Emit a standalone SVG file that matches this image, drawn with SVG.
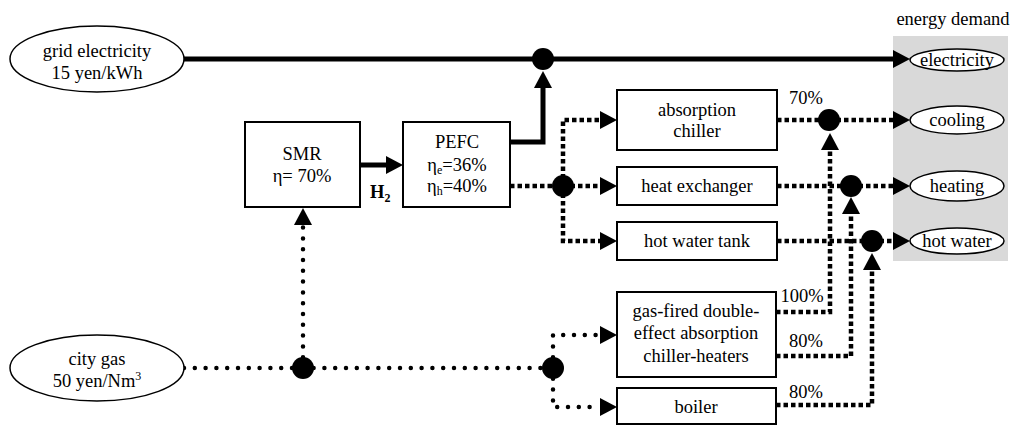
<svg xmlns="http://www.w3.org/2000/svg" width="1020" height="426" viewBox="0 0 1020 426" font-family="Liberation Serif">
<style>
.t{font-size:18.5px;fill:#000;text-anchor:middle}
.b{font-weight:bold}
.box{fill:#fff;stroke:#000;stroke-width:2}
.ell{fill:#fff;stroke:#000;stroke-width:1.5}
.thick{fill:none;stroke:#000;stroke-width:5}
.dash{fill:none;stroke:#000;stroke-width:4.5;stroke-dasharray:4.5 3}
.dot{fill:none;stroke:#000;stroke-width:4.5;stroke-linecap:round;stroke-dasharray:0 10.8}
.j{fill:#000}
</style>
<defs>
<marker id="ah" markerUnits="userSpaceOnUse" markerWidth="18" markerHeight="18" refX="0" refY="9" orient="auto" overflow="visible">
<path d="M0,0 L17,9 L0,18 z" fill="#000"/>
</marker>
</defs>
<rect x="893" y="36" width="115" height="225" fill="#d9d9d9"/>
<text class="t" x="953" y="25" font-family="Liberation Serif">energy demand</text>

<g id="connectors" font-family="Liberation Serif">
<path class="thick" d="M184,59 H893" marker-end="url(#ah)"/>
<path class="thick" d="M510,142 H543 V88" marker-end="url(#ah)"/>
<path class="thick" d="M360,165 H386" marker-end="url(#ah)"/>
<path class="dash" d="M510,186 H563"/>
<path class="dash" d="M563,186 V120 H600" marker-end="url(#ah)"/>
<path class="dash" d="M563,186 H600" marker-end="url(#ah)"/>
<path class="dash" d="M563,186 V241 H600" marker-end="url(#ah)"/>
<path class="dash" d="M777,120 H829"/>
<path class="dash" d="M829,120 H893" marker-end="url(#ah)"/>
<path class="dash" d="M777,186 H851"/>
<path class="dash" d="M851,186 H893" marker-end="url(#ah)"/>
<path class="dash" d="M777,241 H872"/>
<path class="dash" d="M872,241 H893" marker-end="url(#ah)"/>
<path class="dash" d="M776,312 H830 V150" marker-end="url(#ah)"/>
<path class="dash" d="M776,356 H851 V214" marker-end="url(#ah)"/>
<path class="dash" d="M776,405 H872 V270" marker-end="url(#ah)"/>
<path class="dot" d="M184,368 H553"/>
<path class="dot" d="M303,368 V225" marker-end="url(#ah)"/>
<path class="dot" d="M553,368 V335 H600" marker-end="url(#ah)"/>
<path class="dot" d="M553,368 V407 H600" marker-end="url(#ah)"/>
<circle class="j" cx="543" cy="59" r="11"/>
<circle class="j" cx="563" cy="186" r="11"/>
<circle class="j" cx="829" cy="120" r="11"/>
<circle class="j" cx="851" cy="186" r="11"/>
<circle class="j" cx="872" cy="241" r="11"/>
<circle class="j" cx="303" cy="368" r="11"/>
<circle class="j" cx="553" cy="368" r="11"/>
<text class="t b" x="370" y="198" text-anchor="start" style="text-anchor:start">H<tspan font-size="12" dy="4">2</tspan></text>
<text class="t" x="806" y="104">70%</text>
<text class="t" x="802" y="302">100%</text>
<text class="t" x="806" y="347">80%</text>
<text class="t" x="806" y="398">80%</text>
</g>

<g id="grid" font-family="Liberation Serif">
<ellipse class="ell" cx="97" cy="59" rx="87" ry="33"/>
<text class="t" x="97" y="57">grid electricity</text>
<text class="t" x="97" y="79">15 yen/kWh</text>
</g>
<g id="citygas" font-family="Liberation Serif">
<ellipse class="ell" cx="97" cy="368" rx="87" ry="33"/>
<text class="t" x="97" y="365">city gas</text>
<text class="t" x="97" y="387">50 yen/Nm<tspan font-size="12" dy="-7">3</tspan></text>
</g>
<g id="smr" font-family="Liberation Serif">
<rect class="box" x="245" y="122" width="115" height="85"/>
<text class="t" x="302" y="160">SMR</text>
<text class="t" x="302" y="182">η= 70%</text>
</g>
<g id="pefc" font-family="Liberation Serif">
<rect class="box" x="403" y="122" width="107" height="85"/>
<text class="t" x="457" y="148">PEFC</text>
<text class="t" x="457" y="171">η<tspan font-size="12" dy="3">e</tspan><tspan dy="-3">=36%</tspan></text>
<text class="t" x="457" y="192">η<tspan font-size="12" dy="3">h</tspan><tspan dy="-3">=40%</tspan></text>
</g>
<g id="absorption" font-family="Liberation Serif">
<rect class="box" x="617" y="90" width="160" height="60"/>
<text class="t" x="697" y="116">absorption</text>
<text class="t" x="697" y="137">chiller</text>
</g>
<g id="heatex" font-family="Liberation Serif">
<rect class="box" x="617" y="167" width="160" height="38"/>
<text class="t" x="697" y="192">heat exchanger</text>
</g>
<g id="hwtank" font-family="Liberation Serif">
<rect class="box" x="617" y="222" width="160" height="38"/>
<text class="t" x="697" y="247">hot water tank</text>
</g>
<g id="gasfired" font-family="Liberation Serif">
<rect class="box" x="617" y="292" width="159" height="85"/>
<text class="t" x="696" y="317">gas-fired double-</text>
<text class="t" x="696" y="339">effect absorption</text>
<text class="t" x="696" y="362">chiller-heaters</text>
</g>
<g id="boiler" font-family="Liberation Serif">
<rect class="box" x="617" y="388" width="159" height="36"/>
<text class="t" x="696" y="413">boiler</text>
</g>
<g id="electricity" font-family="Liberation Serif">
<ellipse class="ell" cx="957" cy="60" rx="47" ry="11"/>
<text class="t" x="957" y="66">electricity</text>
</g>
<g id="cooling" font-family="Liberation Serif">
<ellipse class="ell" cx="957" cy="120" rx="47" ry="14"/>
<text class="t" x="957" y="126">cooling</text>
</g>
<g id="heating" font-family="Liberation Serif">
<ellipse class="ell" cx="957" cy="186" rx="47" ry="15"/>
<text class="t" x="957" y="192">heating</text>
</g>
<g id="hotwater" font-family="Liberation Serif">
<ellipse class="ell" cx="957" cy="241" rx="47" ry="13"/>
<text class="t" x="957" y="247">hot water</text>
</g>
</svg>
